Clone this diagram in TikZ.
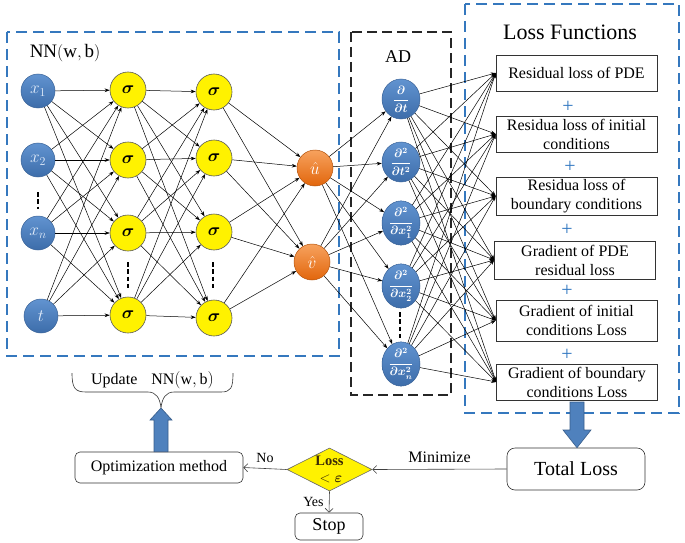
\documentclass[tikz,border=0pt]{standalone}
\usepackage{fontspec}
\setmainfont{Liberation Serif}
\usepackage{amsmath}
\usetikzlibrary{shapes.geometric,arrows.meta,calc}
\definecolor{nnblue}{HTML}{4A7DBA}
\definecolor{nnblueT}{HTML}{6193D0}
\definecolor{nnblueB}{HTML}{3D6DAA}
\definecolor{nnblueD}{HTML}{3A6398}
\definecolor{inText}{HTML}{E2ECFA}
\definecolor{orT}{HTML}{F7A25E}
\definecolor{orB}{HTML}{E2660C}
\definecolor{orD}{HTML}{B5530B}
\definecolor{frameblue}{HTML}{3578BE}
\definecolor{plusblue}{HTML}{2E75C0}
\definecolor{fatfill}{HTML}{4F81BD}
\definecolor{fatdraw}{HTML}{385D8A}
\definecolor{losscol}{HTML}{3A2A08}
\begin{document}
\begin{tikzpicture}[x=1pt,y=-1pt,
  wire/.style={-{Stealth[length=5pt,width=3.6pt]}, line width=0.5pt, black},
  flow/.style={-{Straight Barb[length=4pt,width=8pt]}, line width=0.6pt, black!75},
  innode/.style={circle, minimum size=34pt, inner sep=0pt, top color=nnblueT, bottom color=nnblueB, draw=nnblueD, line width=0.5pt, text=inText, font=\fontsize{18}{18}\selectfont},
  signode/.style={circle, minimum size=36pt, inner sep=0pt, fill=yellow, draw=black!65, line width=0.6pt, font=\fontsize{19}{19}\selectfont},
  outnode/.style={circle, minimum size=36pt, inner sep=0pt, top color=orT, bottom color=orB, draw=orD, line width=0.5pt, text=white, font=\fontsize{17}{17}\selectfont},
  adnode/.style={ellipse, minimum width=38pt, minimum height=40pt, inner sep=0pt, top color=nnblueT, bottom color=nnblueB, draw=nnblueD, line width=0.5pt, text=white, font=\fontsize{11.5}{12}\selectfont\boldmath},
  lossbox/.style={draw=black!80, line width=0.6pt, minimum width=161pt, inner sep=1pt, align=center, font=\fontsize{16}{19}\selectfont},
  plussign/.style={text=plusblue, font=\fontsize{20}{20}\selectfont, inner sep=0pt},
  rbox/.style={draw=black!80, line width=0.6pt, rounded corners=6pt, inner sep=1pt, align=center, font=\fontsize{16}{18}\selectfont},
  bluedash/.style={draw=frameblue, line width=1.8pt, dash pattern=on 11pt off 6pt},
  blackdash/.style={draw=black!85, line width=1.8pt, dash pattern=on 10pt off 5pt},
  vdots/.style={line width=2.6pt, black, dash pattern=on 4.5pt off 2.8pt},
  fatarrow/.style={fill=fatfill, draw=fatdraw, line width=0.6pt}
]
\useasboundingbox (0,0) rectangle (685,543);

% frames
\draw[bluedash] (7,32) rectangle (339,356);
\draw[blackdash] (351,32) rectangle (451,395);
\draw[bluedash] (465,4) rectangle (679,413);

% labels of frames
\node[font=\fontsize{19}{19}\selectfont] (nnlab) at (65,53) {$\mathrm{NN}(\mathrm{w},\mathrm{b})$};
\node[font=\fontsize{18}{18}\selectfont] (adlab) at (398,57) {AD};
\node[font=\fontsize{22}{22}\selectfont] (lflab) at (570,32) {Loss Functions};

% input layer
\node[innode] (i1) at (38,91) {$x_1$};
\node[innode] (i2) at (38,160) {$x_2$};
\node[innode] (i3) at (38,233) {$x_n$};
\node[innode] (i4) at (41,316) {$t$};

% hidden layers
\node[signode] (h1) at (128,90) {$\boldsymbol{\sigma}$};
\node[signode] (h2) at (128,160) {$\boldsymbol{\sigma}$};
\node[signode] (h3) at (128,233) {$\boldsymbol{\sigma}$};
\node[signode] (h4) at (128,315) {$\boldsymbol{\sigma}$};
\node[signode] (g1) at (214,92) {$\boldsymbol{\sigma}$};
\node[signode] (g2) at (214,158) {$\boldsymbol{\sigma}$};
\node[signode] (g3) at (214,232) {$\boldsymbol{\sigma}$};
\node[signode] (g4) at (214,318) {$\boldsymbol{\sigma}$};

% outputs
\node[outnode] (o1) at (315,168) {$\hat{u}$};
\node[outnode] (o2) at (312,262) {$\hat{v}$};

% AD nodes
\node[adnode] (a1) at (401,99) {$\dfrac{\partial}{\partial t}$};
\node[adnode] (a2) at (401,162) {$\dfrac{\partial^2}{\partial t^2}$};
\node[adnode] (a3) at (401,223) {$\dfrac{\partial^2}{\partial x_1^2}$};
\node[adnode] (a4) at (401,286) {$\dfrac{\partial^2}{\partial x_2^2}$};
\node[adnode, minimum height=43pt] (a5) at (401,364) {$\dfrac{\partial^2}{\partial x_n^2}$};

% vertical dots
\draw[vdots] (38,192) -- (38,209);
\draw[vdots] (128,262) -- (128,288);
\draw[vdots] (213,262) -- (213,288);
\draw[vdots] (400,312) -- (400,338);

% loss boxes
\node[lossbox, minimum height=36pt] (b1) at (576.5,73) {Residual loss of PDE};
\node[lossbox, minimum height=36pt] (b2) at (576.5,134) {Residua loss of initial\\conditions};
\node[lossbox, minimum height=38pt] (b3) at (576.5,196) {Residua loss of\\boundary conditions};
\node[lossbox, minimum height=38pt] (b4) at (575,260) {Gradient of PDE\\residual loss};
\node[lossbox, minimum height=41pt] (b5) at (576.5,320.5) {Gradient of initial\\conditions Loss};
\node[lossbox, minimum height=36pt] (b6) at (577,382) {Gradient of boundary\\conditions Loss};

\node[plussign] (p1) at (568,107) {+};
\node[plussign] (p2) at (570,167) {+};
\node[plussign] (p3) at (567,230) {+};
\node[plussign] (p4) at (567,291) {+};
\node[plussign] (p5) at (567,355) {+};

% connections
\foreach \a in {i1,i2,i3,i4} \foreach \b in {h1,h2,h3,h4} \draw[wire] (\a) -- (\b);
\foreach \a in {h1,h2,h3,h4} \foreach \b in {g1,g2,g3,g4} \draw[wire] (\a) -- (\b);
\foreach \a in {g1,g2,g3,g4} \foreach \b in {o1,o2} \draw[wire] (\a) -- (\b);
\foreach \a in {o1,o2} \foreach \b in {a1,a2,a3,a4,a5} \draw[wire] (\a) -- (\b);
\foreach \a in {a1,a2,a3,a4,a5} \foreach \b in {b1,b2,b3,b4,b5,b6} \draw[wire] (\a) -- (\b.west);

% bottom flow
\node[rbox, minimum width=168pt, minimum height=31pt, rounded corners=5pt] (opt) at (159,467.5) {Optimization method};
\node[diamond, fill=yellow, draw=black!60, line width=0.6pt, minimum width=85pt, minimum height=43pt, inner sep=0pt] (dec) at (329.5,469.5) {};
\node[text=losscol, font=\fontsize{14.5}{15}\selectfont\bfseries, inner sep=0pt] (decA) at (329.5,461) {Loss};
\node[text=losscol, font=\fontsize{14}{15}\selectfont, inner sep=0pt] (decB) at (331,478.5) {$<\boldsymbol{\varepsilon}$};
\node[rbox, minimum width=138pt, minimum height=42pt, rounded corners=8pt, font=\fontsize{20}{22}\selectfont] (tot) at (576,469) {Total Loss};
\node[rbox, minimum width=68pt, minimum height=27pt, rounded corners=5pt, font=\fontsize{18}{20}\selectfont] (stop) at (329,526.5) {Stop};

\draw[flow] (tot.west) -- (dec.east) node[midway, above=3pt, font=\fontsize{16}{16}\selectfont, text=black] {Minimize};
\draw[flow] (dec.west) -- (opt.east) node[midway, above=2pt, font=\fontsize{14}{14}\selectfont, text=black] {No};
\draw[flow] (dec.south) -- (stop.north) node[midway, left=2pt, font=\fontsize{14}{14}\selectfont, text=black] {Yes};

% brace and update label
\coordinate (btip) at (161,408);
\draw[line width=0.6pt, black!80] (72,373) .. controls (72,388) and (75,392) .. (86,392) -- (148,392) .. controls (156,392) and (160,398) .. (btip) .. controls (162,398) and (166,392) .. (174,392) -- (221,392) .. controls (231,392) and (233,388) .. (233,373);
\node[font=\fontsize{16}{16}\selectfont] (upd) at (152.5,380) {Update\hspace{14pt}$\mathrm{NN}(\mathrm{w},\mathrm{b})$};

% fat arrows
\draw[fatarrow] ($(opt.north)+(-5,0)$) -- ($(btip)+(-7,12)$) -- ($(btip)+(-11,12)$) -- (btip) -- ($(btip)+(11,12)$) -- ($(btip)+(7,12)$) -- ($(opt.north)+(9,0)$) -- cycle;
\coordinate (dtop) at (577,402);
\draw[fatarrow] ($(dtop)+(-7,0)$) -- ($(dtop)+(-7,28)$) -- ($(dtop)+(-14,28)$) -- (tot.north -| dtop) -- ($(dtop)+(14,28)$) -- ($(dtop)+(7,28)$) -- ($(dtop)+(7,0)$) -- cycle;
\end{tikzpicture}
\end{document}
